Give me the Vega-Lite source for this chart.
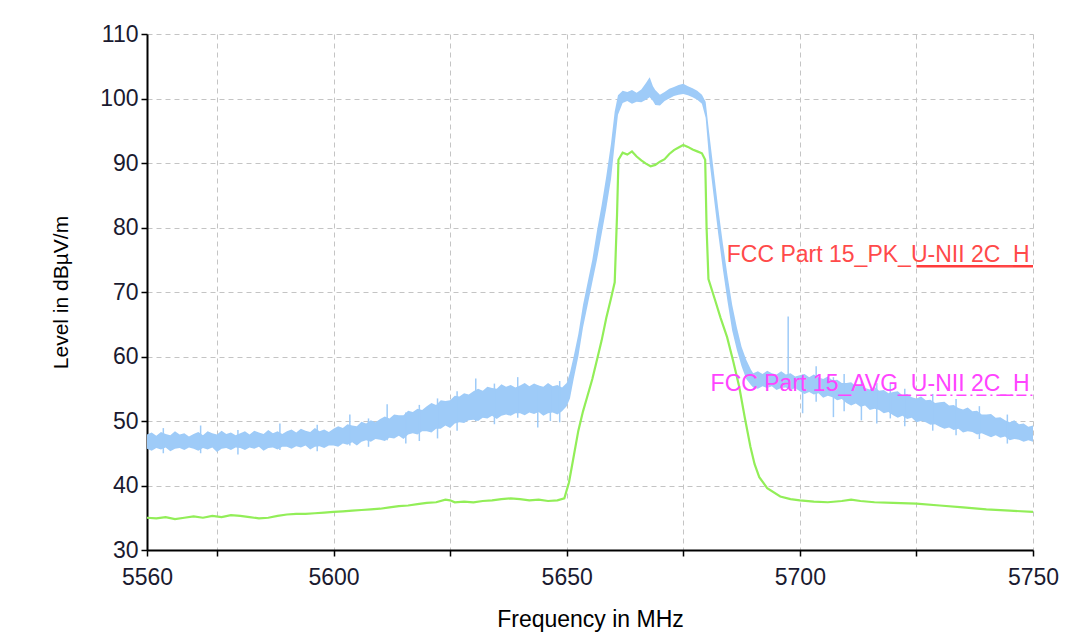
{
  "$schema": "https://vega.github.io/schema/vega-lite/v6.json",
  "width": 886,
  "height": 516,
  "autosize": "none",
  "padding": {"left": 147, "top": 34, "right": 42, "bottom": 82},
  "background": "white",
  "config": {
    "view": {"stroke": null},
    "font": "Liberation Sans",
    "axis": {
      "domainColor": "#000000",
      "domainWidth": 2,
      "tickColor": "#000000",
      "tickWidth": 1.5,
      "tickSize": 6,
      "gridColor": "#c4c4c4",
      "gridDash": [5, 4],
      "gridWidth": 1,
      "labelFont": "Liberation Sans",
      "labelFontSize": 23,
      "labelColor": "#1a1a30",
      "titleFont": "Liberation Sans",
      "titleFontWeight": "normal",
      "titleColor": "#000000",
      "labelOverlap": false,
      "labelBound": false,
      "labelFlush": false
    }
  },
  "datasets": {
    "blue": [
      {"f":5560,"lo":45.7,"hi":47.9},{"f":5561,"lo":45.4,"hi":48.2},{"f":5562,"lo":45.8,"hi":47.7},{"f":5563,"lo":45.6,"hi":48.3},{"f":5564,"lo":45.9,"hi":48.0},
      {"f":5565,"lo":45.3,"hi":47.8},{"f":5566,"lo":45.7,"hi":48.4},{"f":5567,"lo":45.8,"hi":47.9},{"f":5568,"lo":45.5,"hi":48.1},{"f":5569,"lo":45.9,"hi":47.6},
      {"f":5570,"lo":45.7,"hi":48.0},{"f":5571,"lo":45.4,"hi":48.3},{"f":5572,"lo":45.8,"hi":47.8},{"f":5573,"lo":45.6,"hi":48.4},{"f":5574,"lo":45.9,"hi":48.1},
      {"f":5575,"lo":45.2,"hi":47.9},{"f":5576,"lo":45.7,"hi":48.5},{"f":5577,"lo":45.8,"hi":48.0},{"f":5578,"lo":45.5,"hi":48.2},{"f":5579,"lo":45.9,"hi":47.8},
      {"f":5580,"lo":45.8,"hi":48.1},{"f":5581,"lo":45.5,"hi":48.4},{"f":5582,"lo":45.9,"hi":47.9},{"f":5583,"lo":45.7,"hi":48.5},{"f":5584,"lo":46.0,"hi":48.2},
      {"f":5585,"lo":45.4,"hi":48.0},{"f":5586,"lo":45.8,"hi":48.6},{"f":5587,"lo":45.9,"hi":48.1},{"f":5588,"lo":45.6,"hi":48.4},{"f":5589,"lo":46.0,"hi":48.0},
      {"f":5590,"lo":46.0,"hi":48.4},{"f":5591,"lo":45.7,"hi":48.7},{"f":5592,"lo":46.1,"hi":48.2},{"f":5593,"lo":45.9,"hi":48.8},{"f":5594,"lo":46.2,"hi":48.5},
      {"f":5595,"lo":45.6,"hi":48.3},{"f":5596,"lo":46.0,"hi":48.9},{"f":5597,"lo":46.1,"hi":48.4},{"f":5598,"lo":45.8,"hi":48.7},{"f":5599,"lo":46.2,"hi":48.3},
      {"f":5600,"lo":46.2,"hi":48.8},{"f":5601,"lo":46.0,"hi":49.2},{"f":5602,"lo":46.5,"hi":48.9},{"f":5603,"lo":46.3,"hi":49.5},{"f":5604,"lo":46.7,"hi":49.3},
      {"f":5605,"lo":46.2,"hi":49.2},{"f":5606,"lo":46.8,"hi":49.9},{"f":5607,"lo":47.0,"hi":49.6},{"f":5608,"lo":46.8,"hi":50.1},{"f":5609,"lo":47.2,"hi":49.8},
      {"f":5610,"lo":47.1,"hi":50.3},{"f":5611,"lo":46.9,"hi":50.7},{"f":5612,"lo":47.4,"hi":50.4},{"f":5613,"lo":47.3,"hi":51.0},{"f":5614,"lo":47.7,"hi":50.9},
      {"f":5615,"lo":47.2,"hi":50.9},{"f":5616,"lo":47.9,"hi":51.6},{"f":5617,"lo":48.1,"hi":51.4},{"f":5618,"lo":47.9,"hi":51.9},{"f":5619,"lo":48.4,"hi":51.7},
      {"f":5620,"lo":48.4,"hi":52.3},{"f":5621,"lo":48.2,"hi":52.8},{"f":5622,"lo":48.8,"hi":52.5},{"f":5623,"lo":48.8,"hi":53.2},{"f":5624,"lo":49.3,"hi":53.1},
      {"f":5625,"lo":48.9,"hi":53.2},{"f":5626,"lo":49.6,"hi":53.9},{"f":5627,"lo":49.8,"hi":53.8},{"f":5628,"lo":49.7,"hi":54.3},{"f":5629,"lo":50.1,"hi":54.1},
      {"f":5630,"lo":50.2,"hi":54.6},{"f":5631,"lo":50.0,"hi":55.0},{"f":5632,"lo":50.5,"hi":54.7},{"f":5633,"lo":50.4,"hi":55.3},{"f":5634,"lo":50.8,"hi":55.1},
      {"f":5635,"lo":50.3,"hi":55.0},{"f":5636,"lo":50.8,"hi":55.7},{"f":5637,"lo":51.0,"hi":55.3},{"f":5638,"lo":50.8,"hi":55.6},{"f":5639,"lo":51.2,"hi":55.2},
      {"f":5640,"lo":51.2,"hi":55.5},{"f":5641,"lo":50.9,"hi":55.9},{"f":5642,"lo":51.3,"hi":55.4},{"f":5643,"lo":51.1,"hi":55.8},{"f":5644,"lo":51.4,"hi":55.5},
      {"f":5645,"lo":50.8,"hi":55.3},{"f":5646,"lo":51.2,"hi":55.9},{"f":5647,"lo":51.3,"hi":55.4},{"f":5648,"lo":51.0,"hi":55.6},{"f":5649,"lo":51.5,"hi":55.2},
      {"f":5650,"lo":52.3,"hi":55.9},{"f":5650.7,"lo":53.5,"hi":57.5},{"f":5651.5,"lo":56.5,"hi":60.0},{"f":5652.5,"lo":60.0,"hi":63.5},{"f":5653.5,"lo":64.5,"hi":68.0},
      {"f":5654.5,"lo":68.0,"hi":71.5},{"f":5655.5,"lo":71.5,"hi":75.0},{"f":5656.5,"lo":75.0,"hi":79.5},{"f":5657.5,"lo":79.0,"hi":83.5},{"f":5658.5,"lo":83.0,"hi":88.0},
      {"f":5659.5,"lo":87.5,"hi":93.0},{"f":5660.3,"lo":93.0,"hi":98.0},{"f":5661,"lo":97.5,"hi":100.5},{"f":5662,"lo":99.3,"hi":101.2},{"f":5663,"lo":99.6,"hi":101.0},
      {"f":5664,"lo":99.2,"hi":101.3},{"f":5665,"lo":99.5,"hi":100.9},{"f":5666,"lo":99.4,"hi":101.4},{"f":5667,"lo":99.8,"hi":102.4},{"f":5667.8,"lo":100.2,"hi":103.3},
      {"f":5668.5,"lo":99.6,"hi":101.9},{"f":5669,"lo":99.0,"hi":101.3},{"f":5670,"lo":98.9,"hi":100.6},{"f":5671,"lo":99.6,"hi":101.0},{"f":5672,"lo":100.0,"hi":101.5},
      {"f":5673,"lo":100.4,"hi":101.8},{"f":5674,"lo":100.6,"hi":102.1},{"f":5675,"lo":100.7,"hi":102.3},{"f":5676,"lo":100.5,"hi":101.9},{"f":5677,"lo":100.2,"hi":101.6},
      {"f":5678,"lo":99.8,"hi":101.2},{"f":5679,"lo":99.2,"hi":100.6},{"f":5679.8,"lo":97.0,"hi":99.5},{"f":5680.5,"lo":91.0,"hi":95.0},{"f":5681.5,"lo":85.0,"hi":89.0},
      {"f":5682.5,"lo":79.0,"hi":83.0},{"f":5683.5,"lo":73.5,"hi":77.5},{"f":5684.5,"lo":68.5,"hi":72.5},{"f":5685.5,"lo":64.0,"hi":68.0},{"f":5686.5,"lo":61.0,"hi":64.5},
      {"f":5687.5,"lo":58.5,"hi":61.5},{"f":5688.5,"lo":56.5,"hi":59.5},{"f":5689.5,"lo":55.6,"hi":58.0},
      {"f":5690,"lo":55.2,"hi":57.4},{"f":5691,"lo":55.0,"hi":57.7},{"f":5692,"lo":55.4,"hi":57.3},{"f":5693,"lo":55.1,"hi":57.8},{"f":5694,"lo":55.4,"hi":57.4},
      {"f":5695,"lo":54.8,"hi":57.2},{"f":5696,"lo":55.1,"hi":57.7},{"f":5697,"lo":55.2,"hi":57.2},{"f":5698,"lo":54.8,"hi":57.4},{"f":5699,"lo":55.1,"hi":56.9},
      {"f":5700,"lo":54.6,"hi":57.1},{"f":5701,"lo":54.2,"hi":57.3},{"f":5702,"lo":54.5,"hi":56.8},{"f":5703,"lo":54.1,"hi":57.2},{"f":5704,"lo":54.3,"hi":56.8},
      {"f":5705,"lo":53.6,"hi":56.5},{"f":5706,"lo":53.9,"hi":56.9},{"f":5707,"lo":53.7,"hi":56.3},{"f":5708,"lo":53.2,"hi":56.4},{"f":5709,"lo":53.4,"hi":55.9},
      {"f":5710,"lo":52.8,"hi":55.9},{"f":5711,"lo":52.4,"hi":56.0},{"f":5712,"lo":52.7,"hi":55.4},{"f":5713,"lo":52.2,"hi":55.6},{"f":5714,"lo":52.4,"hi":55.1},
      {"f":5715,"lo":51.7,"hi":54.9},{"f":5716,"lo":51.9,"hi":55.3},{"f":5717,"lo":51.7,"hi":54.7},{"f":5718,"lo":51.2,"hi":54.8},{"f":5719,"lo":51.4,"hi":54.3},
      {"f":5720,"lo":50.9,"hi":54.5},{"f":5721,"lo":50.5,"hi":54.6},{"f":5722,"lo":50.8,"hi":54.0},{"f":5723,"lo":50.3,"hi":54.2},{"f":5724,"lo":50.5,"hi":53.7},
      {"f":5725,"lo":49.8,"hi":53.5},{"f":5726,"lo":50.0,"hi":53.8},{"f":5727,"lo":49.8,"hi":53.2},{"f":5728,"lo":49.4,"hi":53.3},{"f":5729,"lo":49.5,"hi":52.8},
      {"f":5730,"lo":49.1,"hi":52.9},{"f":5731,"lo":48.8,"hi":53.0},{"f":5732,"lo":49.0,"hi":52.4},{"f":5733,"lo":48.6,"hi":52.5},{"f":5734,"lo":48.8,"hi":52.0},
      {"f":5735,"lo":48.2,"hi":51.8},{"f":5736,"lo":48.4,"hi":52.1},{"f":5737,"lo":48.3,"hi":51.5},{"f":5738,"lo":47.9,"hi":51.6},{"f":5739,"lo":48.1,"hi":51.0},
      {"f":5740,"lo":47.8,"hi":51.0},{"f":5741,"lo":47.5,"hi":51.1},{"f":5742,"lo":47.8,"hi":50.5},{"f":5743,"lo":47.4,"hi":50.6},{"f":5744,"lo":47.6,"hi":50.1},
      {"f":5745,"lo":47.0,"hi":49.8},{"f":5746,"lo":47.2,"hi":50.1},{"f":5747,"lo":47.1,"hi":49.5},{"f":5748,"lo":46.8,"hi":49.6},{"f":5749,"lo":47.0,"hi":49.1},
      {"f":5750,"lo":46.8,"hi":49.3}
    ],
    "spikes": [
      {"f":5563.5,"a":45.0,"b":48.9},{"f":5571.5,"a":45.0,"b":49.3},{"f":5579.5,"a":44.8,"b":48.6},{"f":5588.5,"a":45.5,"b":49.6},
      {"f":5596.5,"a":45.3,"b":49.4},{"f":5603.5,"a":46.2,"b":51.0},{"f":5607.5,"a":46.0,"b":50.4},{"f":5611.5,"a":47.0,"b":52.6},
      {"f":5615.5,"a":46.5,"b":51.3},{"f":5618.4,"a":46.9,"b":52.5},{"f":5622.3,"a":47.3,"b":53.5},{"f":5626.5,"a":48.5,"b":54.6},
      {"f":5630.5,"a":50.0,"b":56.6},{"f":5634.5,"a":49.5,"b":55.8},{"f":5639.5,"a":50.5,"b":56.8},{"f":5643.8,"a":49.0,"b":55.5},
      {"f":5646.5,"a":50.0,"b":55.5},{"f":5648.5,"a":49.8,"b":56.2},
      {"f":5697.5,"a":55.0,"b":66.2},{"f":5700.6,"a":51.2,"b":57.2},{"f":5703.5,"a":53.0,"b":58.5},{"f":5707.2,"a":50.6,"b":56.8},
      {"f":5709.5,"a":51.5,"b":57.3},{"f":5713.2,"a":50.1,"b":56.3},{"f":5716.5,"a":49.6,"b":55.9},{"f":5719.4,"a":50.4,"b":55.8},
      {"f":5722.5,"a":49.2,"b":55.0},{"f":5728.5,"a":48.5,"b":54.2},{"f":5733.5,"a":47.8,"b":53.4},{"f":5738.5,"a":47.2,"b":52.3},
      {"f":5744.5,"a":46.5,"b":51.0}
    ],
    "green": [
      {"f":5560,"v":35.0},{"f":5562,"v":34.9},{"f":5564,"v":35.1},{"f":5566,"v":34.8},{"f":5568,"v":35.0},{"f":5570,"v":35.2},
      {"f":5572,"v":35.0},{"f":5574,"v":35.3},{"f":5576,"v":35.1},{"f":5578,"v":35.4},{"f":5580,"v":35.3},{"f":5582,"v":35.1},
      {"f":5584,"v":34.9},{"f":5586,"v":35.0},{"f":5588,"v":35.3},{"f":5590,"v":35.5},{"f":5592,"v":35.6},{"f":5594,"v":35.6},
      {"f":5596,"v":35.7},{"f":5598,"v":35.8},{"f":5600,"v":35.9},{"f":5602,"v":36.0},{"f":5604,"v":36.1},{"f":5606,"v":36.2},
      {"f":5608,"v":36.3},{"f":5610,"v":36.4},{"f":5612,"v":36.6},{"f":5614,"v":36.8},{"f":5616,"v":36.9},{"f":5618,"v":37.1},
      {"f":5620,"v":37.3},{"f":5622,"v":37.4},{"f":5624,"v":37.8},{"f":5625,"v":37.7},{"f":5626,"v":37.4},{"f":5628,"v":37.5},
      {"f":5630,"v":37.4},{"f":5632,"v":37.6},{"f":5634,"v":37.7},{"f":5636,"v":37.9},{"f":5638,"v":38.0},{"f":5640,"v":37.9},
      {"f":5642,"v":37.7},{"f":5644,"v":37.8},{"f":5646,"v":37.6},{"f":5648,"v":37.7},{"f":5649.5,"v":38.0},{"f":5650.5,"v":40.5},
      {"f":5651.5,"v":44.5},{"f":5652.5,"v":48.5},{"f":5653.5,"v":51.5},{"f":5654.5,"v":54.0},{"f":5655.5,"v":56.5},{"f":5656.5,"v":59.5},
      {"f":5657.5,"v":62.5},{"f":5658.5,"v":66.0},{"f":5659.5,"v":69.0},{"f":5660.3,"v":71.5},{"f":5660.8,"v":82.0},{"f":5661.1,"v":90.5},
      {"f":5662,"v":91.6},{"f":5663,"v":91.3},{"f":5664,"v":91.8},{"f":5665,"v":91.0},{"f":5666,"v":90.4},{"f":5667,"v":89.9},
      {"f":5668,"v":89.5},{"f":5669,"v":89.7},{"f":5670,"v":90.2},{"f":5671,"v":90.6},{"f":5672,"v":91.4},{"f":5673,"v":92.0},
      {"f":5674,"v":92.4},{"f":5675,"v":92.8},{"f":5676,"v":92.5},{"f":5677,"v":92.1},{"f":5678,"v":91.8},{"f":5679,"v":91.5},
      {"f":5679.7,"v":90.5},{"f":5680,"v":80.0},{"f":5680.4,"v":72.0},{"f":5681.8,"v":68.8},{"f":5683,"v":66.0},{"f":5684.4,"v":63.0},
      {"f":5685.7,"v":59.3},{"f":5687,"v":55.3},{"f":5688.2,"v":50.5},{"f":5689.4,"v":46.0},{"f":5690.3,"v":43.3},{"f":5691.3,"v":41.3},
      {"f":5693,"v":39.6},{"f":5695.8,"v":38.3},{"f":5698,"v":37.9},{"f":5700,"v":37.7},{"f":5703,"v":37.5},{"f":5706,"v":37.4},
      {"f":5709,"v":37.6},{"f":5711,"v":37.8},{"f":5713,"v":37.6},{"f":5716,"v":37.4},{"f":5720,"v":37.3},{"f":5725,"v":37.2},
      {"f":5730,"v":36.9},{"f":5735,"v":36.6},{"f":5740,"v":36.3},{"f":5745,"v":36.1},{"f":5750,"v":35.9}
    ],
    "limits": [
      {"name":"FCC Part 15_PK_U-NII 2C_H","kind":"PK","f1":5725,"f2":5750,"level":74,"tx":5749.3},
      {"name":"FCC Part 15_AVG_U-NII 2C_H","kind":"AVG","f1":5725,"f2":5750,"level":54,"tx":5749.3}
    ]
  },
  "layer": [
    {
      "data": {"name": "blue"},
      "mark": {"type": "area", "color": "#9ecbf8", "opacity": 1},
      "encoding": {
        "x": {
          "field": "f", "type": "quantitative",
          "scale": {"domain": [5560, 5750], "nice": false, "zero": false},
          "axis": {
            "title": "Frequency in MHz",
            "titleFontSize": 23,
            "titlePadding": 19,
            "values": [5560, 5575, 5600, 5625, 5650, 5675, 5700, 5725, 5750],
            "format": "d",
            "labelExpr": "indexof([5560,5600,5650,5700,5750], datum.value) >= 0 ? datum.label : ''",
            "labelPadding": 10,
            "grid": true
          }
        },
        "y": {
          "field": "lo", "type": "quantitative",
          "scale": {"domain": [30, 110], "nice": false, "zero": false},
          "axis": {
            "title": "Level in dBµV/m",
            "titleFontSize": 21,
            "titlePadding": 28,
            "values": [30,35,40,45,50,55,60,65,70,75,80,85,90,95,100,105,110],
            "labelExpr": "datum.value % 10 == 0 ? datum.label : ''",
            "labelPadding": 3,
            "grid": true
          }
        },
        "y2": {"field": "hi"}
      }
    },
    {
      "data": {"name": "spikes"},
      "mark": {"type": "rule", "color": "#9ecbf8", "strokeWidth": 1.5},
      "encoding": {
        "x": {"field": "f", "type": "quantitative"},
        "y": {"field": "a", "type": "quantitative"},
        "y2": {"field": "b"}
      }
    },
    {
      "data": {"name": "green"},
      "mark": {"type": "line", "color": "#92ee58", "strokeWidth": 2.2},
      "encoding": {
        "x": {"field": "f", "type": "quantitative"},
        "y": {"field": "v", "type": "quantitative"}
      }
    },
    {
      "data": {"name": "limits"},
      "transform": [{"filter": "datum.kind == 'PK'"}],
      "mark": {"type": "rule", "color": "#ff3b3b", "strokeWidth": 2.5},
      "encoding": {
        "x": {"field": "f1", "type": "quantitative"},
        "x2": {"field": "f2"},
        "y": {"field": "level", "type": "quantitative"}
      }
    },
    {
      "data": {"name": "limits"},
      "transform": [{"filter": "datum.kind == 'AVG'"}],
      "mark": {"type": "rule", "color": "#ff44ff", "strokeWidth": 1.5, "strokeDash": [10, 4, 2, 4]},
      "encoding": {
        "x": {"field": "f1", "type": "quantitative"},
        "x2": {"field": "f2"},
        "y": {"field": "level", "type": "quantitative"}
      }
    },
    {
      "data": {"name": "limits"},
      "mark": {"type": "text", "align": "right", "baseline": "alphabetic", "dy": -4, "fontSize": 23, "font": "Liberation Sans"},
      "encoding": {
        "x": {"field": "tx", "type": "quantitative"},
        "y": {"field": "level", "type": "quantitative"},
        "text": {"field": "name"},
        "color": {"field": "kind", "type": "nominal", "scale": {"domain": ["PK", "AVG"], "range": ["#ff4a4a", "#ff44ff"]}, "legend": null}
      }
    }
  ]
}
